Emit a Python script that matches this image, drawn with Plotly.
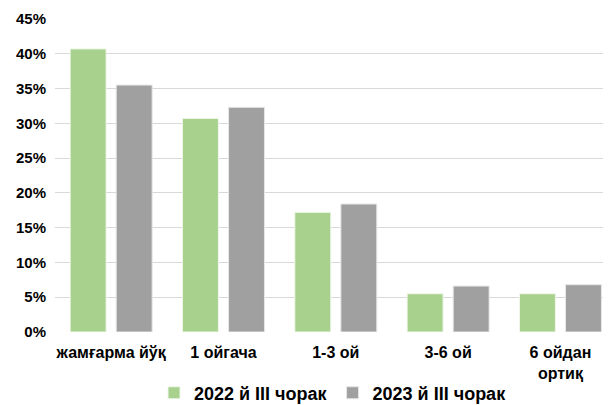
import plotly.graph_objects as go

categories = ["жамғарма йўқ", "1 ойгача", "1-3 ой", "3-6 ой", "6 ойдан<br>ортиқ"]
series_2022 = [40.7, 30.7, 17.2, 5.5, 5.5]
series_2023 = [35.5, 32.3, 18.4, 6.6, 6.8]
name_2022 = "2022 й III чорак"
name_2023 = "2023 й III чорак"
y_ticks = [0, 5, 10, 15, 20, 25, 30, 35, 40, 45]
y_tick_labels = [f"{v}%" for v in y_ticks]

font_family = "Liberation Sans, Arial, sans-serif"

fig = go.Figure()
fig.add_trace(go.Bar(x=categories, y=series_2022, name=name_2022,
                     marker=dict(color="#a9d18e", line=dict(color="#eef6e8", width=1))))
fig.add_trace(go.Bar(x=categories, y=series_2023, name=name_2023,
                     marker=dict(color="#a0a0a0", line=dict(color="#e6e6e6", width=1))))

# page body has an 8px default margin, so the figure is sized to 603x397
fig.update_layout(
    width=603, height=397,
    margin=dict(l=47, r=0, t=11, b=73, autoexpand=False),
    paper_bgcolor="white", plot_bgcolor="white",
    barmode="group", bargap=0.18, bargroupgap=0.22,
    font=dict(family=font_family, color="black"),
    showlegend=True,
    legend=dict(orientation="h", x=0.5, xanchor="center", y=-0.195, yanchor="middle",
                font=dict(size=18, family=font_family, weight="bold"),
                itemwidth=30, tracegroupgap=0, traceorder="normal"),
    xaxis=dict(range=[-0.5, 4.45], showgrid=False, zeroline=False, showline=False,
               automargin=False, ticklabelstandoff=9,
               tickfont=dict(size=16, family=font_family, weight="bold"), ticks=""),
    yaxis=dict(range=[0, 45], tickvals=y_ticks, ticktext=y_tick_labels,
               showgrid=True, gridcolor="#d9d9d9", gridwidth=1, zeroline=False,
               showline=False, ticks="", ticklen=0, automargin=False,
               ticklabelstandoff=8,
               tickfont=dict(size=15, family=font_family, weight="bold")),
)

fig.write_html("out.html")
